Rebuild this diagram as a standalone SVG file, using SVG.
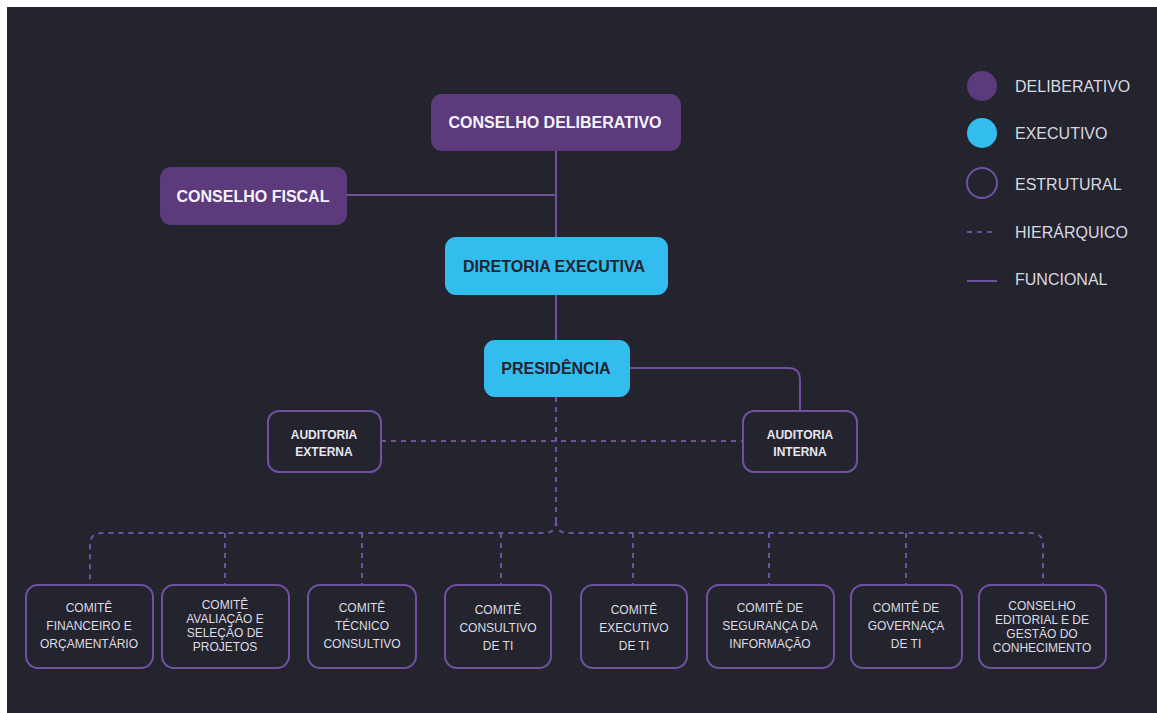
<svg xmlns="http://www.w3.org/2000/svg" width="1157" height="713" viewBox="0 0 1157 713">
<style>
.bg{fill:#24242f}
.delib{fill:#5c3a7c}
.exec{fill:#33bdee}
.struct{fill:#24242f;stroke:#6f51a0;stroke-width:2}
.t{font-family:"Liberation Sans",Arial,sans-serif;font-weight:bold;text-anchor:middle}
.tw{fill:#f4f4f8;font-size:16px}
.td{fill:#24242f;font-size:16px}
.ts{fill:#e6e6ee;font-size:12px}
.tc{fill:#dcdce4;font-size:12px;font-weight:normal}
.solid{fill:none;stroke:#6f51a0;stroke-width:2}
.dash{fill:none;stroke:#6f51a0;stroke-width:2;stroke-dasharray:5 5}
.leg{font-family:"Liberation Sans",Arial,sans-serif;font-size:16px;fill:#d8d8e0}
</style>
<rect x="0" y="0" width="1157" height="713" fill="#ffffff"/>
<rect class="bg" x="7" y="7" width="1150" height="706"/>
<g id="connectors">
<path class="solid" d="M556,151 V237"/>
<path class="solid" d="M347,195 H556"/>
<path class="solid" d="M556,295 V340"/>
<path class="solid" d="M630,368 H788 Q800,368 800,380 V411"/>
<path class="dash" d="M381,441 H743"/>
<path class="dash" d="M556,397 V521"/>
<path class="dash" d="M556,521 Q556,533 544,533 H102 Q90,533 90,545 V585"/>
<path class="dash" d="M556,521 Q556,533 568,533 H1031 Q1043,533 1043,545 V585"/>
<path class="dash" d="M225,533 V585"/>
<path class="dash" d="M362,533 V585"/>
<path class="dash" d="M501,533 V585"/>
<path class="dash" d="M633,533 V585"/>
<path class="dash" d="M769,533 V585"/>
<path class="dash" d="M906,533 V585"/>
</g>
<g id="conselho-deliberativo">
<rect class="delib" x="431" y="94" width="250" height="57" rx="11"/>
<text class="t tw" x="555" y="128">CONSELHO DELIBERATIVO</text>
</g>
<g id="conselho-fiscal">
<rect class="delib" x="160" y="167" width="187" height="58" rx="11"/>
<text class="t tw" x="253" y="202">CONSELHO FISCAL</text>
</g>
<g id="diretoria-executiva">
<rect class="exec" x="445" y="237" width="223" height="58" rx="11"/>
<text class="t td" x="554" y="272">DIRETORIA EXECUTIVA</text>
</g>
<g id="presidencia">
<rect class="exec" x="484" y="340" width="146" height="57" rx="11"/>
<text class="t td" x="556" y="374">PRESIDÊNCIA</text>
</g>
<g id="auditoria-externa">
<rect class="struct" x="268" y="411" width="113" height="61" rx="11"/>
<text class="t ts" x="324" y="439">AUDITORIA</text>
<text class="t ts" x="324" y="456">EXTERNA</text>
</g>
<g id="auditoria-interna">
<rect class="struct" x="743" y="411" width="114" height="61" rx="11"/>
<text class="t ts" x="800" y="439">AUDITORIA</text>
<text class="t ts" x="800" y="456">INTERNA</text>
</g>
<g id="comite-financeiro">
<rect class="struct" x="26" y="585" width="127" height="83" rx="12"/>
<text class="t tc" x="89" y="612">COMITÊ</text>
<text class="t tc" x="89" y="630">FINANCEIRO E</text>
<text class="t tc" x="89" y="648">ORÇAMENTÁRIO</text>
</g>
<g id="comite-avaliacao">
<rect class="struct" x="162" y="585" width="127" height="83" rx="12"/>
<text class="t tc" x="225" y="609">COMITÊ</text>
<text class="t tc" x="225" y="623">AVALIAÇÃO E</text>
<text class="t tc" x="225" y="637">SELEÇÃO DE</text>
<text class="t tc" x="225" y="651">PROJETOS</text>
</g>
<g id="comite-tecnico">
<rect class="struct" x="308" y="585" width="108" height="83" rx="12"/>
<text class="t tc" x="362" y="612">COMITÊ</text>
<text class="t tc" x="362" y="630">TÉCNICO</text>
<text class="t tc" x="362" y="648">CONSULTIVO</text>
</g>
<g id="comite-consultivo-ti">
<rect class="struct" x="445" y="585" width="106" height="83" rx="12"/>
<text class="t tc" x="498" y="614">COMITÊ</text>
<text class="t tc" x="498" y="632">CONSULTIVO</text>
<text class="t tc" x="498" y="650">DE TI</text>
</g>
<g id="comite-executivo-ti">
<rect class="struct" x="581" y="585" width="106" height="83" rx="12"/>
<text class="t tc" x="634" y="614">COMITÊ</text>
<text class="t tc" x="634" y="632">EXECUTIVO</text>
<text class="t tc" x="634" y="650">DE TI</text>
</g>
<g id="comite-seguranca">
<rect class="struct" x="707" y="585" width="127" height="83" rx="12"/>
<text class="t tc" x="770" y="612">COMITÊ DE</text>
<text class="t tc" x="770" y="630">SEGURANÇA DA</text>
<text class="t tc" x="770" y="648">INFORMAÇÃO</text>
</g>
<g id="comite-governaca">
<rect class="struct" x="851" y="585" width="111" height="83" rx="12"/>
<text class="t tc" x="906" y="612">COMITÊ DE</text>
<text class="t tc" x="906" y="630">GOVERNAÇA</text>
<text class="t tc" x="906" y="648">DE TI</text>
</g>
<g id="conselho-editorial">
<rect class="struct" x="979" y="585" width="127" height="83" rx="12"/>
<text class="t tc" x="1042" y="610">CONSELHO</text>
<text class="t tc" x="1042" y="624">EDITORIAL E DE</text>
<text class="t tc" x="1042" y="638">GESTÃO DO</text>
<text class="t tc" x="1042" y="652">CONHECIMENTO</text>
</g>
<g id="legend">
<circle cx="982" cy="86" r="15" class="delib"/>
<circle cx="982" cy="133" r="15" class="exec"/>
<circle cx="982" cy="183" r="15" class="struct"/>
<path class="dash" d="M967,232 H997"/>
<path class="solid" d="M967,281 H997"/>
<text class="leg" x="1015" y="92">DELIBERATIVO</text>
<text class="leg" x="1015" y="139">EXECUTIVO</text>
<text class="leg" x="1015" y="190">ESTRUTURAL</text>
<text class="leg" x="1015" y="238">HIERÁRQUICO</text>
<text class="leg" x="1015" y="285">FUNCIONAL</text>
</g>
</svg>
